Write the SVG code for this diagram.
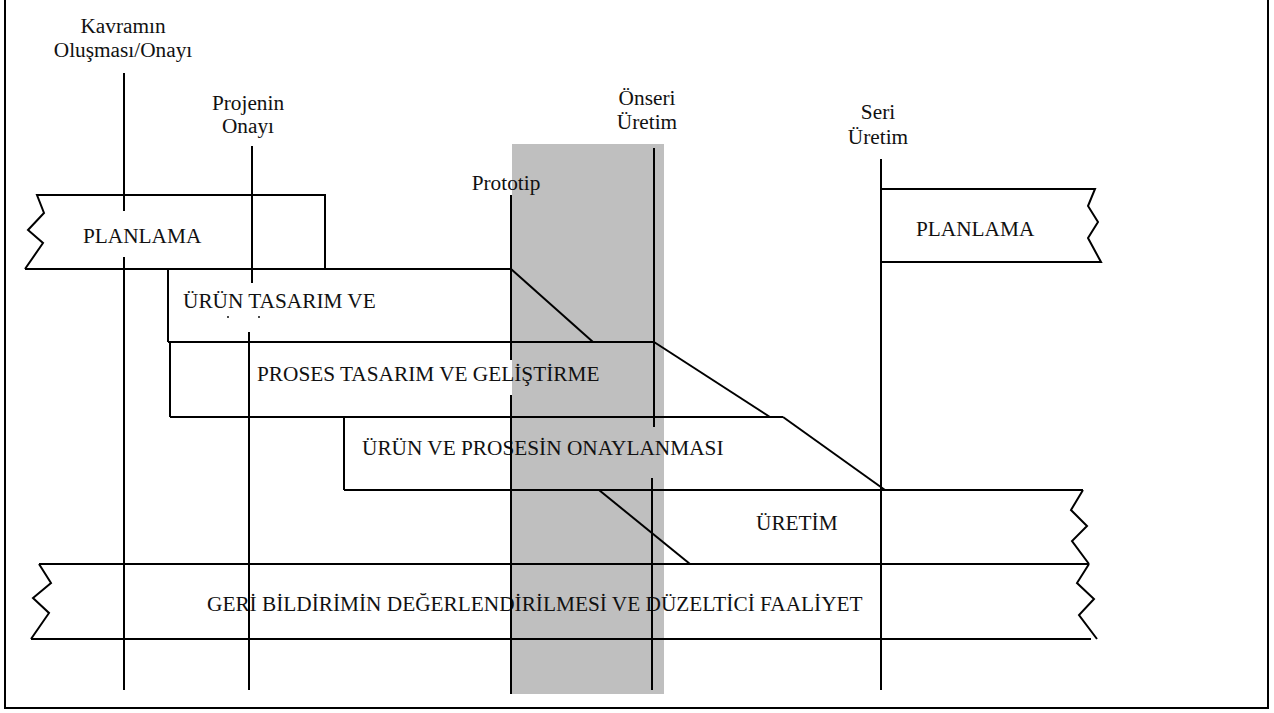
<svg xmlns="http://www.w3.org/2000/svg" width="1274" height="713" viewBox="0 0 1274 713">
  <style>
    .ln { fill: none; stroke: #000; stroke-width: 2; stroke-linejoin: miter; }
    .tx { font-family: "Liberation Serif", "Times New Roman", serif; font-size: 21.3px; fill: #111; }
    .mid { text-anchor: middle; }
  </style>

  <!-- page frame (top edge runs off the sheet) -->
  <path class="ln" d="M5,-2 L5,708 L1268,708 L1268,-2"/>

  <!-- pilot production window -->
  <rect id="pilot-window" x="512" y="144" width="152" height="550" fill="#bfbfbf"/>

  <!-- milestone labels -->
  <g id="milestone-labels">
    <text class="tx mid" x="123" y="33">Kavramın</text>
    <text class="tx mid" x="123" y="57">Oluşması/Onayı</text>
    <text class="tx mid" x="248" y="110">Projenin</text>
    <text class="tx mid" x="248" y="133">Onayı</text>
    <text class="tx mid" x="506" y="190">Prototip</text>
    <text class="tx mid" x="647" y="105">Önseri</text>
    <text class="tx mid" x="647" y="129">Üretim</text>
    <text class="tx mid" x="878" y="119">Seri</text>
    <text class="tx mid" x="878" y="144">Üretim</text>
  </g>

  <!-- phase bands -->
  <g id="planlama-start">
    <path class="ln" d="M25,269 L43,243 L28,230 L44,213 L37,195 L325,195 L325,269"/>
    <path class="ln" d="M25,269 L511,269"/>
    <text class="tx" x="83" y="243">PLANLAMA</text>
  </g>

  <g id="urun-tasarim">
    <path class="ln" d="M168,268 L168,342"/>
    <path class="ln" d="M511,269 L593,342"/>
    <path class="ln" d="M168,342 L654,342"/>
    <text class="tx" x="183" y="308">ÜRÜN TASARIM VE</text>
    <circle cx="228" cy="317" r="1" fill="#111"/>
    <circle cx="259" cy="317" r="1" fill="#111"/>
  </g>

  <g id="proses-tasarim">
    <path class="ln" d="M170,342 L170,417"/>
    <path class="ln" d="M654,342 L770,417"/>
    <path class="ln" d="M170,417 L783,417"/>
    <text class="tx" x="257" y="381">PROSES TASARIM VE GELİŞTİRME</text>
  </g>

  <g id="onaylanma">
    <path class="ln" d="M344,416 L344,490"/>
    <path class="ln" d="M783,417 L885,490"/>
    <path class="ln" d="M344,490 L1083,490"/>
    <text class="tx" x="362" y="455">ÜRÜN VE PROSESİN ONAYLANMASI</text>
  </g>

  <g id="uretim">
    <path class="ln" d="M599,490 L690,564"/>
    <path class="ln" d="M1083,490 L1071,510 L1087,526 L1072,541 L1089,564"/>
    <path class="ln" d="M39,564 L1089,564"/>
    <text class="tx" x="756" y="530">ÜRETİM</text>
  </g>

  <g id="geri-bildirim">
    <path class="ln" d="M39,564 L51,583 L33,598 L49,613 L31,639"/>
    <path class="ln" d="M1089,564 L1077,583 L1094,599 L1079,615 L1097,639"/>
    <path class="ln" d="M31,639 L1091,639"/>
    <text class="tx" x="207" y="611">GERİ BİLDİRİMİN DEĞERLENDİRİLMESİ VE DÜZELTİCİ FAALİYET</text>
  </g>

  <g id="planlama-end">
    <path class="ln" d="M881,189 L1095,189 L1088,206 L1098,222 L1088,238 L1101,262 L881,262"/>
    <text class="tx" x="916" y="236">PLANLAMA</text>
  </g>

  <!-- milestone lines -->
  <g id="connectors">
    <path class="ln" d="M124,73 L124,211 M124,257 L124,690"/>
    <path class="ln" d="M252,146 L252,283 M249,332 L249,690"/>
    <path class="ln" d="M511,195 L511,360 M511,395 L511,694"/>
    <path class="ln" d="M654,148 L654,427 M652,478 L652,690"/>
    <path class="ln" d="M881,159 L881,690"/>
  </g>
</svg>
